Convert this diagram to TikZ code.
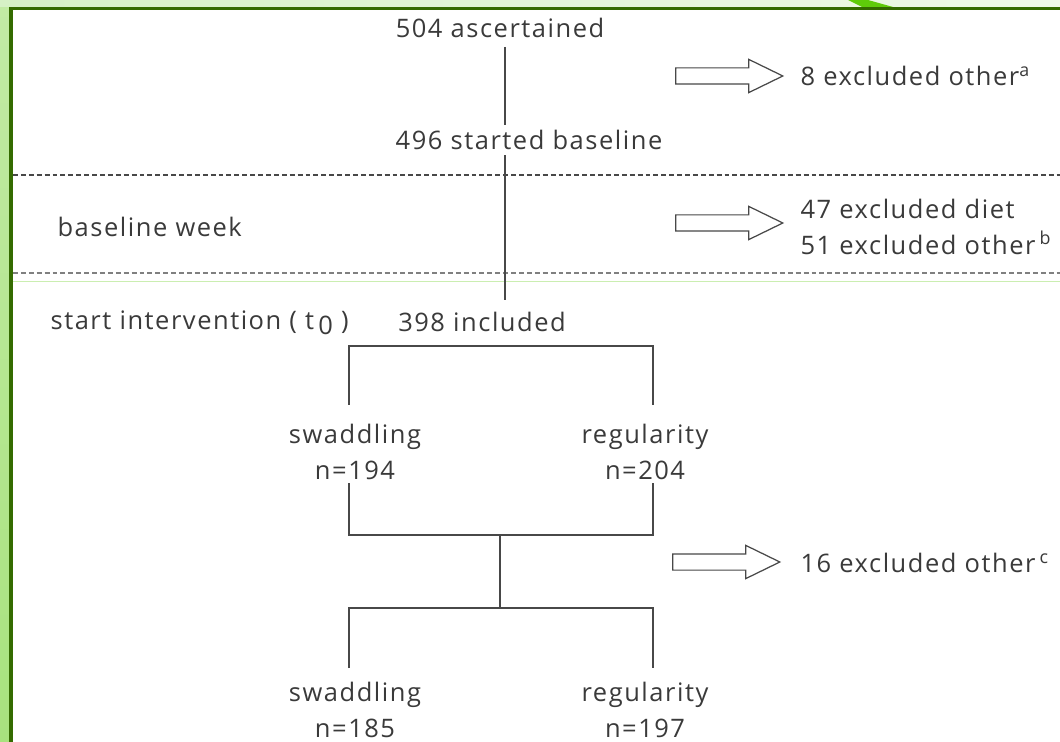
\documentclass[tikz,border=0pt]{standalone}
\usepackage{fontspec}
\setmainfont[LetterSpace=6]{Open Sans}
\usetikzlibrary{shapes.arrows}
\definecolor{txtgray}{HTML}{3A3A3A}
\definecolor{linegray}{HTML}{484848}
\definecolor{framegreen}{HTML}{346B00}
\definecolor{stripgreen}{HTML}{A8E27E}
\definecolor{bandgreen}{HTML}{D6F1C6}
\definecolor{wedgegreen}{HTML}{5FCB0A}

\begin{document}
\begin{tikzpicture}[x=0.02cm,y=-0.02cm,
	lbl/.style={text=txtgray,font=\fontsize{14.5}{20}\selectfont,inner sep=3pt},
	grp/.style={lbl,align=center,inner sep=2pt},
	trunk/.style={draw=linegray,line width=0.8pt},
	fatarrow/.style={single arrow,draw=linegray,line width=0.7pt,fill=white,minimum height=2.14cm,single arrow head extend=0.17cm,single arrow tip angle=52,single arrow head indent=0pt,inner xsep=0pt,inner ysep=0.15cm},
	phaseline/.style={dash pattern=on 2.8pt off 1.7pt,line width=0.6pt,draw=linegray}]
				\fill[white] (0,0) rectangle (1060,742);
				\useasboundingbox (0,0) rectangle (1060,742);
				\shade[top color=stripgreen!70!white, bottom color=stripgreen] (0,0) rectangle (10,742);
				\shade[left color=bandgreen, right color=bandgreen!40!white] (0,0) rectangle (1060,7);
				\fill[wedgegreen] (848,0) -- (868,0) -- (893,7) -- (862,7) -- cycle;
				\draw[framegreen,line width=2pt] (11,742) -- (11,8.5) -- (1060,8.5);
				\draw[phaseline] (13,175) -- (1060,175);
				\draw[phaseline,draw=gray,line width=1.1pt] (13,273) -- (1060,273);
				\draw[stripgreen!60!white,line width=0.4pt] (13,281) -- (1060,281);
				\coordinate (tk) at (505,0);
				\coordinate (lcol) at (349,0);
				\coordinate (rcol) at (653,0);
				\coordinate (split1) at (505,346);
				\coordinate (join1) at (500,535);
				\coordinate (split2) at (500,608);
				\node[lbl] (asc) at (500,28) {504 ascertained};
				\node[lbl] (base) at (529,140) {496 started baseline};
				\node[lbl] (incl) at (482,322) {398 included};
				\node[lbl,anchor=west] (week) at (52,227) {baseline week};
				\node[lbl,anchor=west] (start) at (45,323) {start intervention ( t\,\raisebox{-.35ex}{0} )};
				\node[grp] (sw1) at (355,452) {swaddling\\n=194};
				\node[grp] (rg1) at (645,452) {regularity\\n=204};
				\node[grp] (sw2) at (355,710) {swaddling\\n=185};
				\node[grp] (rg2) at (645,710) {regularity\\n=197};
				\node[fatarrow] (ar1) at (721,76) {};
				\node[fatarrow] (ar2) at (721,223) {};
				\node[fatarrow] (ar3) at (718,562) {};
				\node[lbl,anchor=west] (ex1) at (795,76) {8 excluded other\textsuperscript{a}};
				\node[lbl,anchor=west,align=left] (ex2) at (795,227) {47 excluded diet\\51 excluded other\,\textsuperscript{b}};
				\node[lbl,anchor=west] (ex3) at (795,563) {16 excluded other\,\textsuperscript{c}};
				\draw[trunk] ([yshift=-2pt]asc.south -| tk) -- (base.north -| tk);
				\draw[trunk] (base.south -| tk) -- ([yshift=4pt]incl.north -| tk);
				\draw[trunk] ([yshift=9pt]sw1.north -| lcol) -- (split1 -| lcol) -- (split1 -| rcol) -- ([yshift=9pt]rg1.north -| rcol);
				\draw[trunk] (sw1.south -| lcol) -- (join1 -| lcol) -- (join1 -| rcol) -- (rg1.south -| rcol);
				\draw[trunk] (join1) -- (split2);
				\draw[trunk] ([yshift=6pt]sw2.north -| lcol) -- (split2 -| lcol) -- (split2 -| rcol) -- ([yshift=6pt]rg2.north -| rcol);
\end{tikzpicture}
\end{document}
